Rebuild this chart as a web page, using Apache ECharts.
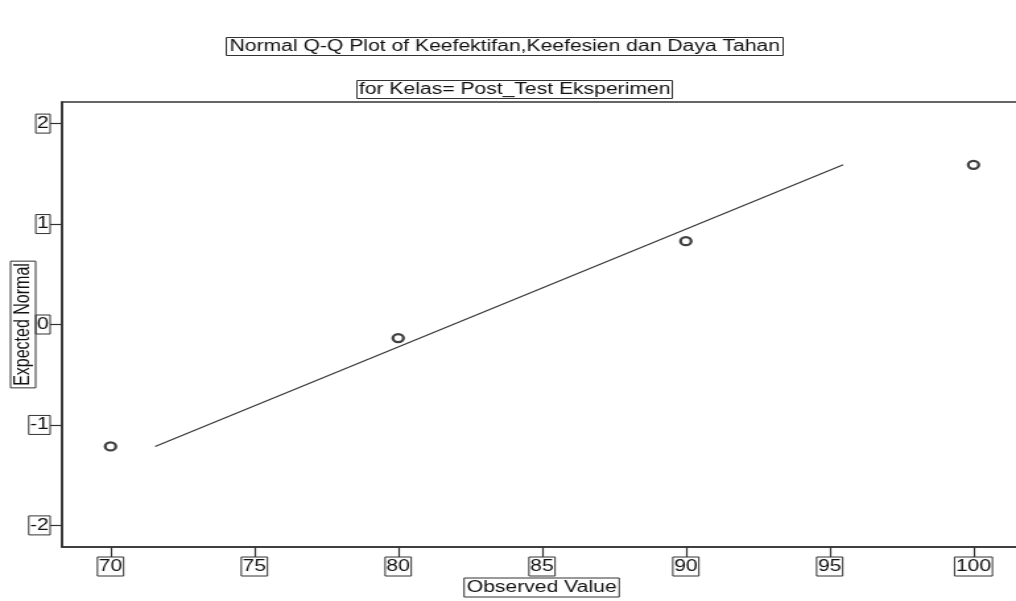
<!DOCTYPE html>
<html>
<head>
<meta charset="utf-8">
<script src="https://cdn.jsdelivr.net/npm/echarts@6/dist/echarts.min.js"></script>
<style>
html,body{margin:0;padding:0;background:#fff;overflow:hidden;}
#c{width:770px;height:601px;transform:scaleX(1.31948);transform-origin:0 0;}
</style>
</head>
<body>
<div id="c"></div>
<script>
// Data
const observedValues = [70, 80, 90, 100];
const expectedNormal = [-1.214, -0.135, 0.83, 1.59];
const lineX = [71.55, 95.47];
const lineY = [-1.214, 1.59];
const xTicks = [70, 75, 80, 85, 90, 95, 100];
const yTicks = [-2, -1, 0, 1, 2];
const mainTitle = 'Normal Q-Q Plot of Keefektifan,Keefesien dan Daya Tahan';
const subTitle = 'for Kelas= Post_Test Eksperimen';
const xName = 'Observed Value';
const yName = 'Expected Normal';

const FONT = 'Liberation Sans, Arial, sans-serif';
const boxText = {
  fontFamily: FONT, fontSize: 16, lineHeight: 16, color: '#111',
  borderColor: '#333', borderWidth: 1
};

const chart = echarts.init(document.getElementById('c'));
chart.setOption({
  backgroundColor: '#fff',
  animation: false,
  title: [
    { text: mainTitle, left: 171, top: 37, padding: [2, 3, 1, 3],
      borderColor: '#333', borderWidth: 1,
      textStyle: { fontFamily: FONT, fontSize: 16, lineHeight: 16, fontWeight: 'normal', color: '#111' } },
    { text: subTitle, left: 270, top: 80, padding: [2, 2, 1, 2],
      borderColor: '#333', borderWidth: 1,
      textStyle: { fontFamily: FONT, fontSize: 16, lineHeight: 16, fontWeight: 'normal', color: '#111' } }
  ],
  grid: { left: 47, right: -4, top: 102, bottom: 54, containLabel: false, outerBoundsMode: 'none',
    show: true, borderColor: '#333', borderWidth: 1.6, backgroundColor: '#fff' },
  xAxis: {
    type: 'value', min: 68.314, max: 101.661,
    name: xName, nameLocation: 'middle', nameGap: 31, nameMoveOverlap: false,
    nameTextStyle: Object.assign({}, boxText, { padding: [2, 2, 1, 2] }),
    axisLine: { show: true, onZero: false, lineStyle: { color: '#333', width: 1.6 } },
    axisTick: { show: true, length: 10, customValues: xTicks, lineStyle: { color: '#333', width: 1.2 } },
    axisLabel: Object.assign({}, boxText, { margin: 10, padding: [2, 1, 1, 1], customValues: xTicks }),
    splitLine: { show: false }
  },
  yAxis: {
    type: 'value', min: -2.215, max: 2.215,
    name: yName, nameLocation: 'middle', nameRotate: 90, nameGap: 20, nameMoveOverlap: false,
    nameTextStyle: Object.assign({}, boxText, { padding: [2, 2, 1, 2] }),
    axisLine: { show: true, onZero: false, lineStyle: { color: '#333', width: 1.6 } },
    axisTick: { show: true, length: 9, customValues: yTicks, lineStyle: { color: '#333', width: 1.2 } },
    axisLabel: Object.assign({}, boxText, { margin: 9, padding: [2, 1, 1, 1], customValues: yTicks }),
    splitLine: { show: false }
  },
  series: [
    { type: 'line', data: lineX.map((x, i) => [x, lineY[i]]), symbol: 'none',
      lineStyle: { color: '#333', width: 1.1 }, silent: true },
    { type: 'scatter', data: observedValues.map((x, i) => [x, expectedNormal[i]]),
      symbol: 'circle', symbolSize: 8,
      itemStyle: { color: '#fff', borderColor: '#111', borderWidth: 2.3 } }
  ]
});
</script>
</body>
</html>
